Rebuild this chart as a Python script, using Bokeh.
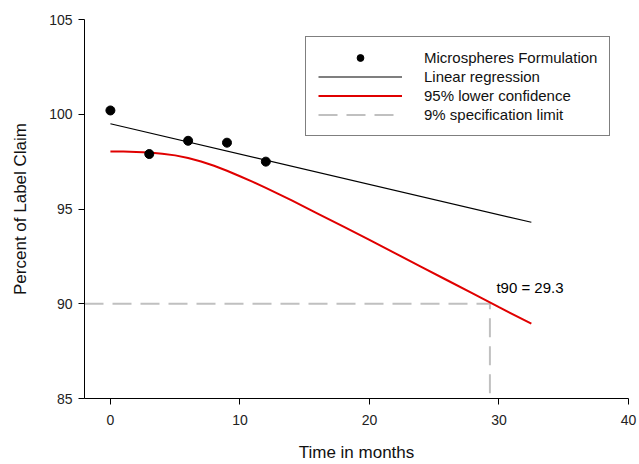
from bokeh.plotting import figure
from bokeh.models import Range1d, FixedTicker, Legend, LegendItem
from bokeh.core.properties import value
from bokeh.embed import file_html
from bokeh.resources import INLINE

# ---- data ----
months = [0, 3, 6, 9, 12]
claim = [100.2, 97.9, 98.6, 98.5, 97.5]

reg_x = [0, 32.5]
reg_y = [99.5, 94.3]

lcl_x = [0, 1, 2, 3, 4, 5, 6, 7, 8, 9, 10, 11, 12, 13, 14, 16, 18, 20,
         22, 24, 26, 28, 30, 32.5]
lcl_y = [98.03, 98.03, 98.01, 97.98, 97.92, 97.83, 97.69, 97.51, 97.28,
         97.02, 96.73, 96.43, 96.11, 95.78, 95.45, 94.76, 94.07, 93.37,
         92.66, 91.95, 91.24, 90.53, 89.82, 88.95]

spec_x = [-2, 29.3, 29.3]
spec_y = [90, 90, 85]

t90_value = 29.3
t90_label = "t90 = 29.3"

x_ticks = [0, 10, 20, 30, 40]
y_ticks = [85, 90, 95, 100, 105]

FONT = "Liberation Sans"

p = figure(width=639, height=464, output_backend="svg", toolbar_location=None,
           x_range=Range1d(-2, 40), y_range=Range1d(85, 105),
           min_border_left=84, min_border_right=11, min_border_top=19,
           min_border_bottom=65)
p.outline_line_color = None
p.xgrid.visible = False
p.ygrid.visible = False
p.background_fill_color = "white"
p.border_fill_color = "white"

for ax in (p.xaxis, p.yaxis):
    ax.axis_line_color = "black"
    ax.axis_line_width = 1
    ax.major_tick_line_color = "black"
    ax.major_tick_out = 6
    ax.major_tick_in = 0
    ax.minor_tick_line_color = None
    ax.major_label_text_font = FONT
    ax.major_label_text_font_size = "14px"
    ax.major_label_text_color = "#222222"
    ax.axis_label_text_font = FONT
    ax.axis_label_text_font_size = "17px"
    ax.axis_label_text_font_style = "normal"
    ax.axis_label_text_color = "#111111"

p.xaxis.ticker = FixedTicker(ticks=x_ticks)
p.yaxis.ticker = FixedTicker(ticks=y_ticks)
p.xaxis.axis_label = "Time in months"
p.yaxis.axis_label = "Percent of Label Claim"
p.xaxis.major_label_standoff = 10
p.xaxis.axis_label_standoff = 15
p.yaxis.major_label_standoff = 6
p.yaxis.axis_label_standoff = 16

r_spec = p.line(spec_x, spec_y, line_color="#c0c0c0", line_width=2,
                line_dash="19 9")
r_reg = p.line(reg_x, reg_y, line_color="black", line_width=1.2)
r_lcl = p.line(lcl_x, lcl_y, line_color="#e00000", line_width=2)
r_pts = p.scatter(months, claim, size=9, color="black", marker="circle")

p.text(x=[t90_value + 0.5], y=[90.85], text=[t90_label],
       text_font=value(FONT), text_font_size="15px", text_color="black",
       text_baseline="alphabetic", text_align="left")

legend = Legend(items=[
    LegendItem(label="Microspheres Formulation", renderers=[r_pts]),
    LegendItem(label="Linear regression", renderers=[r_reg]),
    LegendItem(label="95% lower confidence", renderers=[r_lcl]),
    LegendItem(label="9% specification limit", renderers=[r_spec]),
], location=(221, 262))
legend.border_line_color = "black"
legend.border_line_width = 1
legend.background_fill_alpha = 1
legend.label_text_font = FONT
legend.label_text_font_size = "15px"
legend.label_text_color = "#111111"
legend.glyph_width = 84
legend.glyph_height = 17
legend.label_height = 17
legend.label_standoff = 22
legend.spacing = 2
legend.padding = 12
legend.margin = 0
p.add_layout(legend, "center")

open("out.html", "w").write(file_html(p, INLINE))
